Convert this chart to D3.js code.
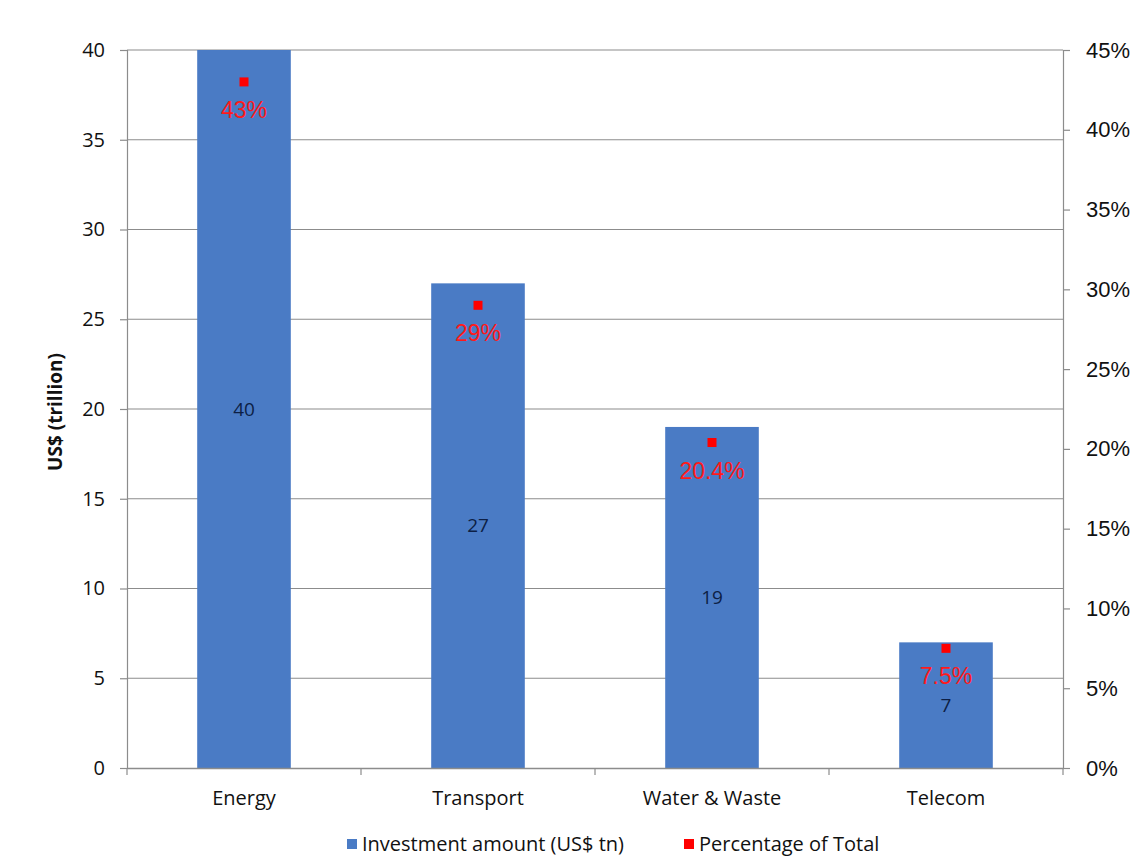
<!DOCTYPE html>
<html>
<head>
<meta charset="utf-8">
<script src="https://cdn.jsdelivr.net/npm/d3@7"></script>
<style>
  html, body { margin: 0; padding: 0; background: #ffffff; }
  svg { display: block; }
</style>
</head>
<body>
<svg id="chart" width="1138" height="857"></svg>
<script>
// Infrastructure investment needs by sector
const categories = ["Energy", "Transport", "Water & Waste", "Telecom"];
const investment = [40, 27, 19, 7];          // US$ trillion
const shareOfTotal = [43, 29, 20.4, 7.5];    // percent of total
const shareLabels = ["43%", "29%", "20.4%", "7.5%"];
const leftTicks = [0, 5, 10, 15, 20, 25, 30, 35, 40];
const rightTicks = [0, 5, 10, 15, 20, 25, 30, 35, 40, 45];
const legendItems = ["Investment amount (US$ tn)", "Percentage of Total"];

const svg = d3.select("#chart");
const plot = { left: 127, right: 1063, top: 50, bottom: 768 };

const x = d3.scaleBand().domain(categories).range([plot.left, plot.right]).paddingInner(0.6).paddingOuter(0.3);
const xBand = d3.scaleBand().domain(categories).range([plot.left, plot.right]);
const y = d3.scaleLinear().domain([0, 40]).range([plot.bottom, plot.top]);
const y2 = d3.scaleLinear().domain([0, 45]).range([plot.bottom, plot.top]);

const gridColor = "#8c8c8c";
const barColor = "#4a7bc5";
const font = "'Open Sans', Lato, sans-serif";
const sans = "'Liberation Sans', Arial, sans-serif";

// horizontal gridlines
svg.append("g")
  .selectAll("line")
  .data(leftTicks.filter(d => d > 0))
  .join("line")
  .attr("x1", plot.left).attr("x2", plot.right)
  .attr("y1", d => y(d)).attr("y2", d => y(d))
  .attr("stroke", gridColor).attr("stroke-width", 1.2);

// left axis
const leftAxis = svg.append("g")
  .attr("transform", `translate(${plot.left},0)`)
  .call(d3.axisLeft(y).tickValues(leftTicks).tickSize(7).tickPadding(15));
leftAxis.select(".domain").attr("stroke", gridColor).attr("stroke-width", 1.2);
leftAxis.selectAll(".tick line").attr("stroke", gridColor).attr("stroke-width", 1.2);
leftAxis.selectAll(".tick text")
  .attr("font-family", font).attr("font-size", 20).attr("fill", "#111");

// right axis
const rightAxis = svg.append("g")
  .attr("transform", `translate(${plot.right},0)`)
  .call(d3.axisRight(y2).tickValues(rightTicks).tickSize(7).tickPadding(16).tickFormat(d => d + "%"));
rightAxis.select(".domain").attr("stroke", gridColor).attr("stroke-width", 1.2);
rightAxis.selectAll(".tick line").attr("stroke", gridColor).attr("stroke-width", 1.2);
rightAxis.selectAll(".tick text")
  .attr("font-family", sans).attr("font-size", 22).attr("fill", "#111");

// bars
svg.append("g")
  .selectAll("rect")
  .data(categories)
  .join("rect")
  .attr("x", d => x(d))
  .attr("width", x.bandwidth())
  .attr("y", (d, i) => y(investment[i]))
  .attr("height", (d, i) => y(0) - y(investment[i]))
  .attr("fill", barColor);

// bottom axis
const bottomAxis = svg.append("g")
  .attr("transform", `translate(0,${plot.bottom})`)
  .call(d3.axisBottom(xBand).tickSize(0).tickPadding(23));
bottomAxis.select(".domain").attr("stroke", gridColor).attr("stroke-width", 1.4);
bottomAxis.selectAll(".tick text")
  .attr("font-family", font).attr("font-size", 20).attr("fill", "#111");
// category boundary ticks
svg.append("g")
  .selectAll("line")
  .data(d3.range(categories.length + 1))
  .join("line")
  .attr("x1", i => plot.left + i * xBand.step())
  .attr("x2", i => plot.left + i * xBand.step())
  .attr("y1", plot.bottom).attr("y2", plot.bottom + 7)
  .attr("stroke", gridColor).attr("stroke-width", 1.2);

// value labels inside bars
svg.append("g")
  .selectAll("text")
  .data(categories)
  .join("text")
  .attr("x", d => x(d) + x.bandwidth() / 2)
  .attr("y", (d, i) => (y(investment[i]) + y(0)) / 2)
  .attr("dy", "0.35em")
  .attr("text-anchor", "middle")
  .attr("font-family", font).attr("font-size", 19)
  .attr("fill", "#0d1f45")
  .text((d, i) => investment[i]);

// percentage markers
svg.append("g")
  .selectAll("rect")
  .data(categories)
  .join("rect")
  .attr("x", d => x(d) + x.bandwidth() / 2 - 4.5)
  .attr("y", (d, i) => y2(shareOfTotal[i]) - 4.5)
  .attr("width", 9).attr("height", 9)
  .attr("fill", "#ff0000");

// percentage labels
svg.append("g")
  .selectAll("text")
  .data(categories)
  .join("text")
  .attr("x", d => x(d) + x.bandwidth() / 2)
  .attr("y", (d, i) => y2(shareOfTotal[i]) + 36)
  .attr("text-anchor", "middle")
  .attr("font-family", sans).attr("font-size", 23)
  .attr("fill", "#ff1a1a")
  .text((d, i) => shareLabels[i]);

// y axis title
svg.append("text")
  .attr("transform", `translate(55,412) rotate(-90)`)
  .attr("text-anchor", "middle")
  .attr("dy", "0.35em")
  .attr("font-family", font).attr("font-size", 19).attr("font-weight", "bold")
  .attr("fill", "#111")
  .text("US$ (trillion)");

// legend
const legend = svg.append("g").attr("transform", "translate(0,844)");
const legendX = [347, 684];
const legendColors = [barColor, "#ff0000"];
legendItems.forEach((label, i) => {
  legend.append("rect")
    .attr("x", legendX[i]).attr("y", -5)
    .attr("width", 10).attr("height", 10)
    .attr("fill", legendColors[i]);
  legend.append("text")
    .attr("x", legendX[i] + 15).attr("y", 7)
    .attr("font-family", font).attr("font-size", 20).attr("fill", "#111")
    .text(label);
});
</script>
</body>
</html>
